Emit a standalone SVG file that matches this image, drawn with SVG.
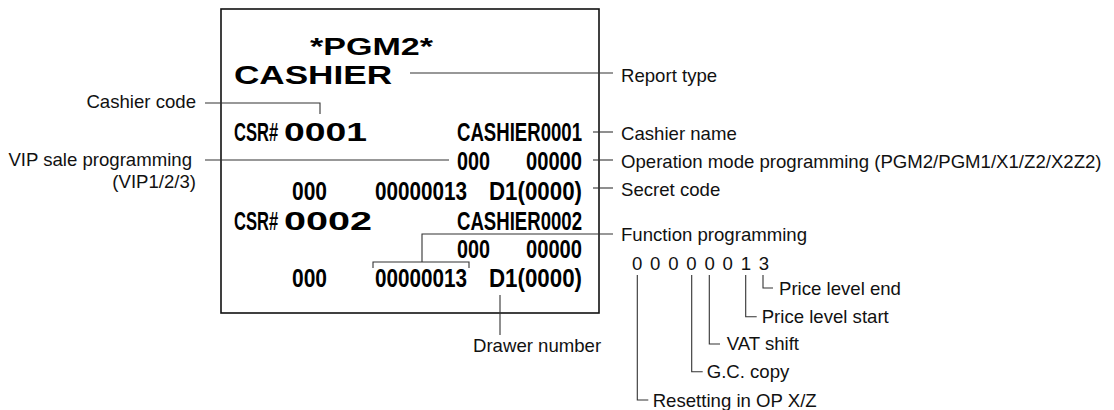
<svg xmlns="http://www.w3.org/2000/svg" width="1114" height="410" viewBox="0 0 1114 410">
<style>
.lbl{font-family:"Liberation Sans",Arial,sans-serif;font-size:18.6px;fill:#111}
.rc{font-family:"Liberation Sans",Arial,sans-serif;font-weight:bold;font-size:25.5px;fill:#000}
.wide{font-family:"Liberation Sans",Arial,sans-serif;font-weight:bold;fill:#000}
.ln{fill:none;stroke:#333;stroke-width:1.1}
</style>
<rect width="1114" height="410" fill="#fff"/>
<g id="receipt">
<rect x="221" y="9" width="378" height="304" fill="#fff" stroke="#111" stroke-width="1.6"/>
<text class="wide" x="310" y="55" font-size="24" textLength="123" lengthAdjust="spacingAndGlyphs">*PGM2*</text>
<text class="wide" x="234" y="84" font-size="26.5" textLength="158" lengthAdjust="spacingAndGlyphs">CASHIER</text>
<text class="rc" transform="translate(234,141) scale(0.65,1)">CSR#</text>
<text class="wide" x="284" y="141" font-size="26" textLength="83" lengthAdjust="spacingAndGlyphs">0001</text>
<text class="rc" x="457" y="141" textLength="125" lengthAdjust="spacingAndGlyphs">CASHIER0001</text>
<text class="rc" x="457" y="170" textLength="33" lengthAdjust="spacingAndGlyphs">000</text>
<text class="rc" x="526" y="170" textLength="56" lengthAdjust="spacingAndGlyphs">00000</text>
<text class="rc" x="292" y="200" textLength="35" lengthAdjust="spacingAndGlyphs">000</text>
<text class="rc" x="375" y="200" textLength="92" lengthAdjust="spacingAndGlyphs">00000013</text>
<text class="rc" x="489" y="200" textLength="93" lengthAdjust="spacingAndGlyphs">D1(0000)</text>
<text class="rc" transform="translate(234,230) scale(0.65,1)">CSR#</text>
<text class="wide" x="284" y="230" font-size="26" textLength="88" lengthAdjust="spacingAndGlyphs">0002</text>
<text class="rc" x="457" y="230" textLength="125" lengthAdjust="spacingAndGlyphs">CASHIER0002</text>
<text class="rc" x="457" y="258" textLength="33" lengthAdjust="spacingAndGlyphs">000</text>
<text class="rc" x="526" y="258" textLength="56" lengthAdjust="spacingAndGlyphs">00000</text>
<text class="rc" x="292" y="287" textLength="35" lengthAdjust="spacingAndGlyphs">000</text>
<text class="rc" x="375" y="287" textLength="92" lengthAdjust="spacingAndGlyphs">00000013</text>
<text class="rc" x="489" y="287" textLength="93" lengthAdjust="spacingAndGlyphs">D1(0000)</text>
</g>
<g id="connectors">
<path class="ln" d="M410,73 H613"/>
<path class="ln" d="M593,132 H613"/>
<path class="ln" d="M593,160 H613"/>
<path class="ln" d="M593,188 H613"/>
<path class="ln" d="M373,268 V262 H469 V268 M422,262 V234 H613"/>
<path class="ln" d="M205,103 H320 V114"/>
<path class="ln" d="M205,160 H449"/>
<path class="ln" d="M500,295 V335"/>
<path class="ln" d="M763,275 V288 H773"/>
<path class="ln" d="M745.7,275 V316.7 H756.7"/>
<path class="ln" d="M709.3,275 V344 H720"/>
<path class="ln" d="M691.7,275 V371.7 H702.7"/>
<path class="ln" d="M637.3,275 V400 H648.3"/>
</g>
<g id="label-report-type"><text class="lbl" x="621" y="82">Report type</text></g>
<g id="label-cashier-name"><text class="lbl" x="621" y="140">Cashier name</text></g>
<g id="label-operation-mode"><text class="lbl" x="621" y="168">Operation mode programming (PGM2/PGM1/X1/Z2/X2Z2)</text></g>
<g id="label-secret-code"><text class="lbl" x="621" y="196">Secret code</text></g>
<g id="label-function"><text class="lbl" x="621" y="241">Function programming</text></g>
<g id="label-cashier-code"><text class="lbl" x="196" y="108" text-anchor="end">Cashier code</text></g>
<g id="label-vip"><text class="lbl" x="192" y="166" text-anchor="end">VIP sale programming</text><text class="lbl" x="196" y="188" text-anchor="end">(VIP1/2/3)</text></g>
<g id="label-drawer"><text class="lbl" x="473" y="352">Drawer number</text></g>
<g id="function-digits"><text class="lbl" x="632" y="270" letter-spacing="1.3">0 0 0 0 0 0 1 3</text></g>
<g id="label-price-end"><text class="lbl" x="779" y="295">Price level end</text></g>
<g id="label-price-start"><text class="lbl" x="761.7" y="322.7">Price level start</text></g>
<g id="label-vat"><text class="lbl" x="726.7" y="350">VAT shift</text></g>
<g id="label-gc"><text class="lbl" x="706.7" y="378.3">G.C. copy</text></g>
<g id="label-reset"><text class="lbl" x="652.7" y="406.7">Resetting in OP X/Z</text></g>
</svg>
